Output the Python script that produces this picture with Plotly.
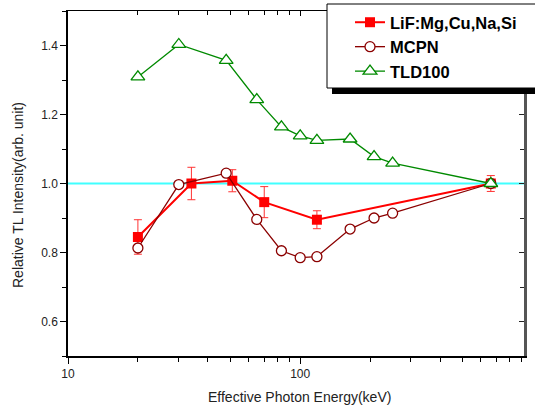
import math
import plotly.graph_objects as go

# ---------------- data ----------------
lif_energy = [20, 34, 51, 70, 118, 662]
lif_value = [0.845, 1.0, 1.008, 0.946, 0.895, 1.0]
lif_error = [0.05, 0.047, 0.032, 0.045, 0.026, 0.023]

mcpn_energy = [20, 30, 48, 65, 83, 100, 118, 164, 208, 250, 662]
mcpn_value = [0.813, 0.997, 1.030, 0.896, 0.805, 0.785, 0.788, 0.868, 0.900, 0.914, 1.0]

tld_energy = [20, 30, 48, 65, 83, 100, 118, 164, 208, 250, 662]
tld_value = [1.309, 1.403, 1.357, 1.243, 1.164, 1.138, 1.125, 1.129, 1.078, 1.059, 1.0]

series_names = ["LiF:Mg,Cu,Na,Si", "MCPN", "TLD100"]
reference_level = 1.0

x_major = [10, 100]
x_major_text = ["10", "100"]
x_minor = [20, 30, 40, 50, 60, 70, 80, 90, 200, 300, 400, 500, 600, 700, 800, 900]
y_major = [0.6, 0.8, 1.0, 1.2, 1.4]
y_major_text = ["0.6", "0.8", "1.0", "1.2", "1.4"]
y_minor = [0.5, 0.7, 0.9, 1.1, 1.3, 1.5]

x_title = "Effective Photon Energy(keV)"
y_title = "Relative TL Intensity(arb. unit)"

# ---------------- layout geometry ----------------
W, H = 535, 414
ML, MR, MT, MB = 68, 11, 11, 58
PW, PH = W - ML - MR, H - MT - MB
X_RANGE = [1, math.log10(920)]
Y_RANGE = [0.5, 1.5]


def px(x):
    return (x - ML) / PW


def py(y):
    return (H - MB - y) / PH


FONT = "Arial, Liberation Sans, sans-serif"
RED = "#ff0000"
MAROON = "#8b0000"
GREEN = "#008a00"

fig = go.Figure()

fig.add_trace(go.Scatter(
    x=lif_energy, y=lif_value, name=series_names[0], mode="lines+markers",
    line=dict(color=RED, width=2),
    marker=dict(symbol="square", size=10, color=RED),
    error_y=dict(type="data", array=lif_error, color="#ff3333", thickness=1, width=4),
    cliponaxis=False,
))
fig.add_trace(go.Scatter(
    x=mcpn_energy, y=mcpn_value, name=series_names[1], mode="lines+markers",
    line=dict(color=MAROON, width=1.3),
    marker=dict(symbol="circle", size=10, color="white", line=dict(color=MAROON, width=1.3)),
))
fig.add_trace(go.Scatter(
    x=tld_energy, y=tld_value, name=series_names[2], mode="lines+markers",
    line=dict(color=GREEN, width=1.3),
    marker=dict(symbol="triangle-up", size=12, color="white", line=dict(color=GREEN, width=1.3)),
))
# invisible trace to host the mirrored (top/right) axes
fig.add_trace(go.Scatter(
    x=tld_energy, y=tld_value, xaxis="x2", yaxis="y2", mode="lines",
    line=dict(width=0), opacity=0, showlegend=False, hoverinfo="skip",
))

# reference line at 1.0
fig.add_shape(type="line", xref="paper", yref="y", x0=0, x1=1,
              y0=reference_level, y1=reference_level,
              line=dict(color="#40ffff", width=2), layer="below")

# legend frame with drop shadow
lx0, lx1, ly0, ly1 = 327, 548, 4, 88
fig.add_shape(type="rect", xref="paper", yref="paper",
              x0=px(lx0 + 5), x1=px(lx1 + 5), y0=py(ly1 + 6), y1=py(ly0 + 6),
              fillcolor="black", line=dict(width=0), layer="above")
fig.add_shape(type="rect", xref="paper", yref="paper",
              x0=px(lx0), x1=px(lx1), y0=py(ly1), y1=py(ly0),
              fillcolor="white", line=dict(color="black", width=1), layer="above")

axis_common = dict(showgrid=False, zeroline=False, tickfont=dict(family=FONT, size=12, color="#222"))

fig.update_layout(
    width=W, height=H,
    margin=dict(l=ML, r=MR, t=MT, b=MB, autoexpand=False),
    paper_bgcolor="white", plot_bgcolor="white",
    font=dict(family=FONT, color="#222"),
    showlegend=True,
    legend=dict(
        x=px(350), y=py(5), xanchor="left", yanchor="top",
        bgcolor="rgba(0,0,0,0)", borderwidth=0,
        font=dict(family=FONT, size=16.5, color="black", weight="bold"),
        tracegroupgap=0, itemwidth=30,
    ),
    xaxis=dict(
        type="log", range=X_RANGE, **axis_common,
        showline=True, linecolor="black", linewidth=1.5,
        tickvals=x_major, ticktext=x_major_text,
        ticks="outside", ticklen=6, tickwidth=1, tickcolor="black",
        minor=dict(tickvals=x_minor, ticks="outside", ticklen=4, tickwidth=1, tickcolor="black"),
    ),
    yaxis=dict(
        range=Y_RANGE, **axis_common,
        showline=True, linecolor="black", linewidth=1.5,
        tickvals=y_major, ticktext=y_major_text,
        ticks="outside", ticklen=6, tickwidth=1, tickcolor="black",
        minor=dict(tickvals=y_minor, ticks="outside", ticklen=4, tickwidth=1, tickcolor="black"),
    ),
    xaxis2=dict(
        type="log", range=X_RANGE, overlaying="x", side="top", anchor="y2",
        showgrid=False, zeroline=False, showticklabels=False,
        showline=True, linecolor="black", linewidth=1,
        tickvals=x_major, ticks="inside", ticklen=5, tickcolor="black",
        minor=dict(tickvals=x_minor, ticks="inside", ticklen=4, tickcolor="black"),
    ),
    yaxis2=dict(
        range=Y_RANGE, overlaying="y", side="right", anchor="x2",
        showgrid=False, zeroline=False, showticklabels=False,
        showline=True, linecolor="#555", linewidth=2.5,
        tickvals=y_major, ticks="inside", ticklen=5, tickcolor="#222",
        minor=dict(tickvals=y_minor, ticks="inside", ticklen=4, tickcolor="#222"),
    ),
    annotations=[
        dict(text=x_title, xref="paper", yref="paper", x=px(299), y=py(397),
             xanchor="center", yanchor="middle", showarrow=False,
             font=dict(family=FONT, size=14, color="#222")),
        dict(text=y_title, xref="paper", yref="paper", x=px(18), y=py(195),
             xanchor="center", yanchor="middle", textangle=-90, showarrow=False,
             font=dict(family=FONT, size=14, color="#222")),
    ],
)

fig.write_html(
    "out.html",
    config={"displayModeBar": False},
    post_script="document.body.style.margin='0';document.body.style.overflow='hidden';",
)
